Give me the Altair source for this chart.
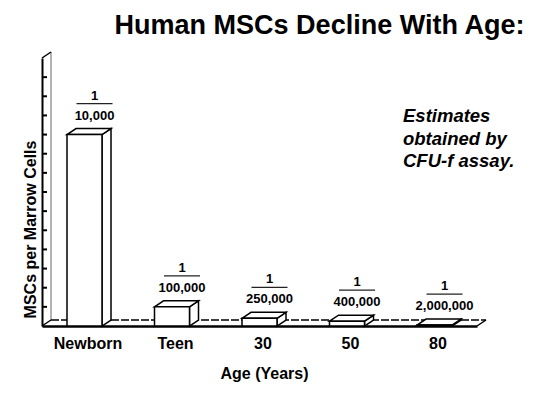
import json
import altair as alt
import pandas as pd

# ---------------- data ----------------
ages = ["Newborn", "Teen", "30", "50", "80"]
denominators = [10000, 100000, 250000, 400000, 2000000]
denominator_labels = ["10,000", "100,000", "250,000", "400,000", "2,000,000"]
y_tick_values = [10, 20, 30, 40, 50, 60, 70, 80, 90, 100, 110, 120, 130]
note_lines = ["Estimates", "obtained by", "CFU-f assay."]
title_text = "Human MSCs Decline With Age:"
x_title = "Age (Years)"
y_title = "MSCs per Marrow Cells"

# ---------------- geometry (pixels -> data units) ----------------
W, H = 435, 268
STEP = 87.5                      # px per category
XMIN = -42.5 / STEP
XMAX = XMIN + W / STEP
YMAX = 140
PX_Y = H / YMAX
HALF = 17.5 / STEP               # half bar width
DX = 9 / STEP                    # depth, x
DY = 6 / PX_Y                    # depth, y
FONT = "Liberation Sans"

bars = pd.DataFrame({
    "age": ages,
    "idx": list(range(len(ages))),
    "value": [1e6 / d for d in denominators],   # MSCs per million marrow cells
    "denom": denominator_labels,
})
bars["L"] = bars["idx"] - HALF
bars["R"] = bars["idx"] + HALF

top_rows, side_rows = [], []
for r in bars.itertuples():
    t = r.value
    top_rows += [
        dict(age=r.age, x=r.L, y=t, y2=t),
        dict(age=r.age, x=r.L + DX, y=t + DY, y2=t),
        dict(age=r.age, x=r.R, y=t + DY, y2=t),
        dict(age=r.age, x=r.R + DX, y=t + DY, y2=t + DY),
    ]
    side_rows += [
        dict(age=r.age, x=r.R, y=t, y2=0),
        dict(age=r.age, x=r.R + DX, y=t + DY, y2=DY),
    ]
top_df = pd.DataFrame(top_rows)
side_df = pd.DataFrame(side_rows)

frame_dark = pd.DataFrame([
    dict(x=XMIN, x2=XMIN + DX, y=YMAX, y2=YMAX + DY),   # axis top corner
    dict(x=XMIN, x2=XMIN + DX, y=0, y2=DY),             # floor left corner
    dict(x=XMAX, x2=XMAX + DX, y=0, y2=DY),             # floor right corner
])
frame_wall = pd.DataFrame([dict(x=XMIN + DX, x2=XMIN + DX, y=DY, y2=YMAX + DY)])
frame_dash = pd.DataFrame([dict(x=XMIN + DX, x2=XMAX + DX, y=DY, y2=DY)])
ticks_df = pd.DataFrame({"y": y_tick_values})
ticks_df["x"] = XMIN
ticks_df["x2"] = XMIN + 5 / STEP

# ---------------- scales / axes ----------------
xs = alt.Scale(domain=[XMIN, XMAX], nice=False, zero=False)
ys = alt.Scale(domain=[0, YMAX], nice=False)
label_expr = json.dumps(ages) + "[datum.value]"
x_axis = alt.Axis(
    title=x_title, values=list(range(len(ages))), labelExpr=label_expr,
    grid=False, ticks=False, tickSize=0, domainColor="black", domainWidth=2.5,
    labelFont=FONT, labelFontSize=16, labelFontWeight="bold", labelColor="black",
    labelBaseline="alphabetic", labelPadding=22, labelOffset=3,
    titleFont=FONT, titleFontSize=16, titleFontWeight="bold", titleColor="black",
    titleX=222, titleY=52, titleBaseline="alphabetic", titleAlign="center",
)
y_axis = alt.Axis(
    title=y_title, grid=False, ticks=False, labels=False,
    domainColor="black", domainWidth=2,
    titleFont=FONT, titleFontSize=16, titleFontWeight="bold", titleColor="black",
    titleX=-12, titleY=171, titleAlign="center", titleBaseline="middle",
)


def X(f):
    return alt.X(f, scale=xs, axis=x_axis)


def Y(f):
    return alt.Y(f, scale=ys, axis=y_axis)


wall = alt.Chart(frame_wall).mark_rule(color="#666666", strokeWidth=1).encode(
    x=X("x:Q"), x2="x2:Q", y=Y("y:Q"), y2="y2:Q")
dash = alt.Chart(frame_dash).mark_rule(color="black", strokeWidth=1.4, strokeDash=[8, 2]).encode(
    x=X("x:Q"), x2="x2:Q", y=Y("y:Q"), y2="y2:Q")
corners = alt.Chart(frame_dark).mark_rule(color="black", strokeWidth=1.5).encode(
    x=X("x:Q"), x2="x2:Q", y=Y("y:Q"), y2="y2:Q")
ticks = alt.Chart(ticks_df).mark_rule(color="black", strokeWidth=2).encode(
    x=X("x:Q"), x2="x2:Q", y=Y("y:Q"), y2="y:Q")

side = alt.Chart(side_df).mark_area(fill="white", stroke="black", strokeWidth=1.5,
                                    interpolate="linear").encode(
    x=X("x:Q"), y=Y("y:Q"), y2="y2:Q", detail="age:N")
top = alt.Chart(top_df).mark_area(fill="white", stroke="black", strokeWidth=1.5,
                                  interpolate="linear").encode(
    x=X("x:Q"), y=Y("y:Q"), y2="y2:Q", detail="age:N")
front = alt.Chart(bars).mark_rect(fill="white", stroke="black", strokeWidth=1.5).encode(
    x=X("L:Q"), x2="R:Q", y=Y("value:Q"), y2=alt.Y2(datum=0))

denom_txt = alt.Chart(bars).mark_text(font=FONT, fontSize=13, fontWeight="bold", color="black",
                                      dx=10, dy=-19, baseline="middle").encode(
    x=X("idx:Q"), y=Y("value:Q"), text="denom:N")
num_txt = alt.Chart(bars).mark_text(font=FONT, fontSize=13, fontWeight="bold", color="black",
                                    dx=10, dy=-39, baseline="middle").encode(
    x=X("idx:Q"), y=Y("value:Q"), text=alt.value("1"))
frac_line = alt.Chart(bars).mark_rule(color="#222222", strokeWidth=1.2,
                                      xOffset=-8, x2Offset=28, yOffset=-31, y2Offset=-31).encode(
    x=X("idx:Q"), x2="idx:Q", y=Y("value:Q"), y2="value:Q")

note = alt.Chart(bars).mark_text(font=FONT, fontSize=18.5, fontWeight="bold", fontStyle="italic",
                                 color="black", align="left", baseline="alphabetic",
                                 lineHeight=22.5).encode(
    x=alt.value(361), y=alt.value(64), text=alt.value(note_lines))

chart = alt.layer(
    wall, dash, corners, ticks, side, top, front, frac_line, denom_txt, num_txt,
    note.transform_filter("datum.idx == 0")
).properties(
    width=W, height=H,
    title=alt.TitleParams(title_text, font=FONT, fontSize=27, fontWeight="bold", color="black",
                          anchor="middle", dx=60, offset=-16, baseline="bottom"),
    padding={"left": 14, "top": 4, "right": 5, "bottom": 5},
    background="white",
).configure_view(stroke=None)

chart.save("out.html", embed_options={"renderer": "svg", "actions": False})
